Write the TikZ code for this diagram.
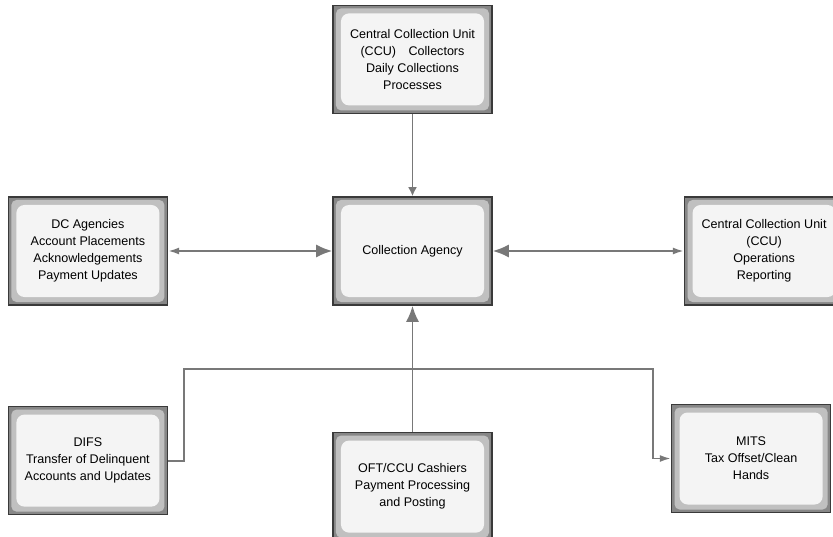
\documentclass[tikz,border=0pt]{standalone}
\usepackage{fontspec}
\setmainfont{Liberation Sans}
\usetikzlibrary{arrows.meta,positioning}
\definecolor{linkgray}{RGB}{120,120,120}
\definecolor{edgedark}{RGB}{58,58,58}
\definecolor{framemid}{RGB}{135,135,135}
\definecolor{framelight}{RGB}{192,192,192}
\definecolor{boxface}{RGB}{244,244,244}

\begin{document}
\begin{tikzpicture}[
    node distance=82bp,
    box/.style={rectangle,draw=edgedark,line width=1.6bp,fill=framemid,
      minimum width=159bp,minimum height=108bp,align=center,
      font=\fontsize{12.6}{17}\selectfont,
      path picture={
        \fill[framelight,rounded corners=5bp]
          ([shift={(3bp,3bp)}]path picture bounding box.south west) rectangle
          ([shift={(-3bp,-3bp)}]path picture bounding box.north east);
        \fill[boxface,rounded corners=8bp]
          ([shift={(8bp,8bp)}]path picture bounding box.south west) rectangle
          ([shift={(-8bp,-8bp)}]path picture bounding box.north east);
      }},
    link/.style={draw=linkgray,line width=1.8bp},
    inarrow/.style={link,-{Latex[length=9bp,width=9bp]}},
    bigarrow/.style={link,-{Latex[length=16bp,width=13bp]}},
    twoway/.style={link,{Latex[length=11bp,width=7bp]}-{Latex[length=16bp,width=13bp]}},
    outarrow/.style={link,-{Latex[length=11bp,width=7bp]}}
  ]
    \path[use as bounding box] (-412.5bp,-286bp) rectangle (420.5bp,251bp);

    \node[box] (agency) at (0,0) {Collection Agency};
    \node[box,above=82bp of agency] (ccucoll) {Central Collection Unit\\(CCU)\quad Collectors\\Daily Collections\\Processes};
    \node[box,left=164bp of agency] (dcagency) {DC Agencies\\Account Placements\\Acknowledgements\\Payment Updates};
    \node[box,right=191bp of agency] (ccuops) {Central Collection Unit\\(CCU)\\Operations\\Reporting};
    \node[box,below=100bp of dcagency] (difs) {DIFS\\Transfer of Delinquent\\Accounts and Updates};
    \node[box,below=126bp of agency] (oft) {OFT/CCU Cashiers\\Payment Processing\\and Posting};
    \node[box,right=178bp of agency,yshift=-207.5bp] (mits) {MITS\\Tax Offset/Clean\\Hands};

    \coordinate[right=16bp of difs.east] (bendL);
    \coordinate[below=63bp of agency.south] (busC);
    \coordinate[left=18bp of mits.west] (bendR);

    \draw[inarrow] (ccucoll) -- (agency);
    \draw[twoway] (dcagency) -- (agency);
    \draw[twoway] (ccuops) -- (agency);
    \draw[bigarrow] (oft) -- (agency);
    \draw[outarrow] (difs.east) -- (bendL) |- (busC) -| (bendR) -- (mits.west);
  \end{tikzpicture}
\end{document}
